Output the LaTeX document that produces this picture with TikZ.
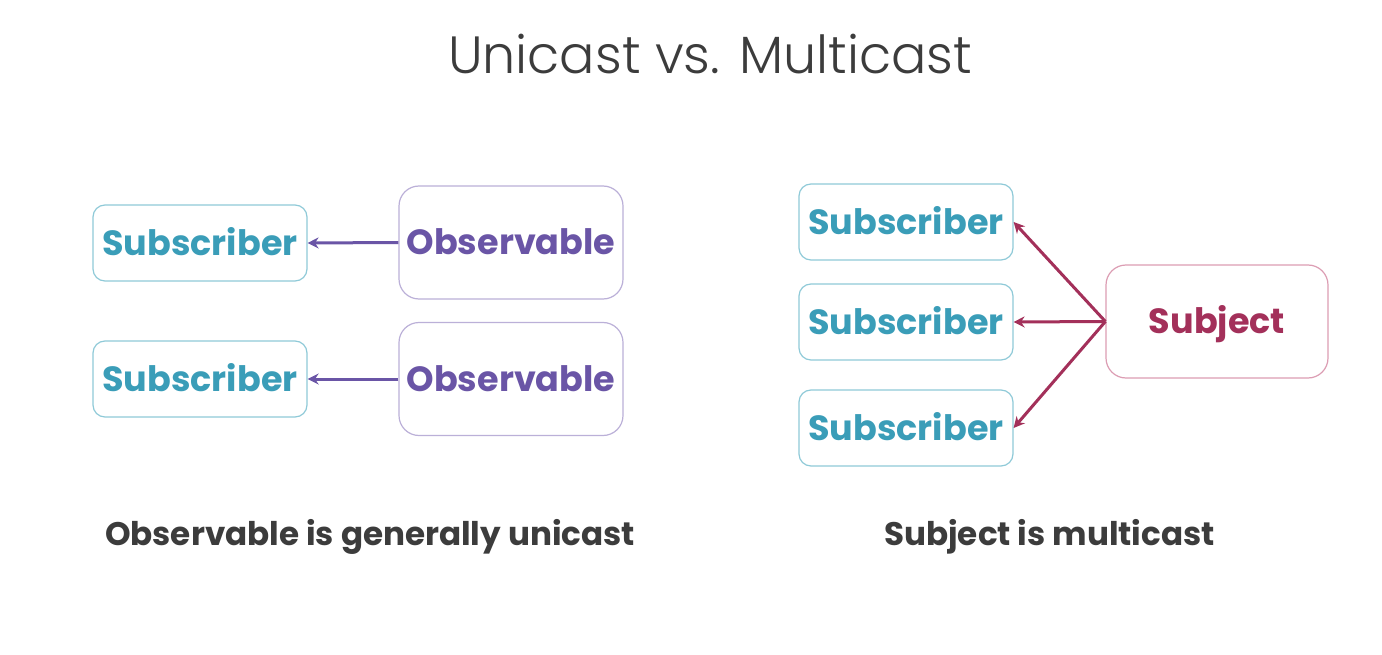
\documentclass[tikz,border=0pt]{standalone}
\usepackage{fontspec}
\setmainfont{Poppins}
\newfontfamily\lightfont{Poppins}[UprightFont={* Light}]
\usetikzlibrary{arrows.meta}
\definecolor{teal}{HTML}{3A9DB8}
\definecolor{tealb}{HTML}{8FCAD8}
\definecolor{purp}{HTML}{6A55A6}
\definecolor{purpb}{HTML}{BBB0D8}
\definecolor{crim}{HTML}{A3305A}
\definecolor{crimb}{HTML}{DC9DB3}
\definecolor{dark}{HTML}{3C3C3C}
\begin{document}
\begin{tikzpicture}[x=1pt,y=-1pt,
  boxbase/.style={line width=1.2pt,inner sep=0pt,text height=24.4pt,text depth=0pt,font=\fontsize{35}{38}\selectfont\bfseries},
  subbox/.style={boxbase,draw=tealb,rounded corners=12pt,minimum width=214pt,minimum height=76pt,text=teal},
  obsbox/.style={boxbase,draw=purpb,rounded corners=20pt,minimum width=224pt,minimum height=113pt,text=purp},
  sbjbox/.style={boxbase,draw=crimb,rounded corners=20pt,minimum width=222pt,minimum height=113pt,text=crim},
  parr/.style={draw=purp,line width=3pt,-{Stealth[length=11pt,width=11pt]}},
  carr/.style={draw=crim,line width=3pt,-{Stealth[length=11pt,width=11pt]}},
  caption/.style={text=dark,font=\fontsize{32.6}{36}\selectfont\bfseries}
]
\useasboundingbox[fill=white] (0,0) rectangle (1382,655);
\node[text=dark,font=\lightfont\fontsize{52.4}{58}\selectfont] (title) at (710,54) {Unicast vs. Multicast};
\node[subbox] (s1) at (200,243) {Subscriber};
\node[subbox] (s2) at (200,379) {Subscriber};
\node[obsbox] (o1) at (511,242.5) {Observable};
\node[obsbox] (o2) at (511,379) {Observable};
\draw[parr] (o1.west) -- (s1.east);
\draw[parr] (o2.west) -- (s2.east);
\node[subbox] (r1) at (906,222) {Subscriber};
\node[subbox] (r2) at (906,322) {Subscriber};
\node[subbox] (r3) at (906,428) {Subscriber};
\node[sbjbox] (sj) at (1217,321.5) {Subject};
\draw[carr] (sj.west) -- (r1.east);
\draw[carr] (sj.west) -- (r2.east);
\draw[carr] (sj.west) -- (r3.east);
\node[caption] (c1) at (370,537) {Observable is generally unicast};
\node[caption] (c2) at (1049.5,537) {Subject is multicast};
\end{tikzpicture}
\end{document}
